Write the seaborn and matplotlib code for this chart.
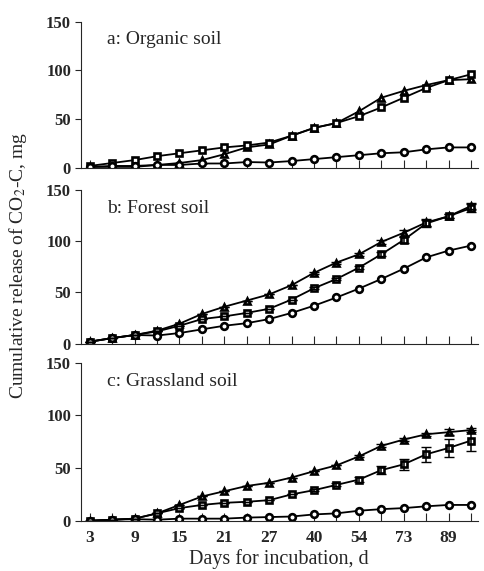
import numpy as np
import pandas as pd
import matplotlib
matplotlib.use("Agg")
import matplotlib.pyplot as plt
import seaborn as sns

# incubation days (only every other one is labelled on the axis)
days = [3, 6, 9, 12, 15, 18, 21, 24, 27, 33, 40, 47, 54, 63, 73, 81, 89, 97]
tick_days = [3, 9, 15, 21, 27, 40, 54, 73, 89]

# a: organic soil
org_tri = [1, 1, 1, 3, 5, 8, 14, 21, 24, 33, 41, 46, 58, 72, 79, 85, 90, 91]
org_sq = [2, 5, 8, 12, 15, 18, 21, 23, 26, 33, 41, 46, 53, 62, 72, 82, 90, 96]
org_ci = [1, 2, 2, 3, 3, 4.5, 4.5, 6, 5.5, 7, 9, 11, 13, 15, 16, 19, 21, 21]

# b: forest soil
for_tri = [2, 5.5, 8.5, 12.7, 19.5, 29, 36, 42, 48, 57, 69, 79, 87, 99, 108, 118, 124, 134]
for_sq = [2, 5.5, 8.5, 12, 17.5, 24, 26.6, 30, 34, 43, 54, 63, 74, 87, 101, 117, 124, 132]
for_ci = [2, 5.5, 8.5, 8, 10.4, 14, 17.5, 20, 24, 30, 37, 45, 53.6, 63, 73, 84, 90.6, 95.5]
for_sq_err = [0, 0, 0, 0, 0, 0, 0, 0, 0, 0, 1, 1, 1.5, 2, 3, 3, 2, 4]
for_tri_err = [0, 0, 0, 0, 0, 0, 0, 0, 0, 0, 1, 1, 1.5, 2, 3, 3, 2, 3]

# c: grassland soil
gra_tri = [0, 1, 2, 7, 15, 23, 28, 33, 36, 41, 47, 52.5, 61, 71, 77, 82, 84, 86]
gra_sq = [0, 1, 2, 7, 12, 15, 17, 18, 19.5, 25, 29, 34, 39, 48, 53.5, 63, 69, 76]
gra_ci = [0, 1, 1.5, 1, 2, 2, 2, 3, 3.5, 4, 6, 7, 9.5, 11, 12, 13.7, 15, 15]
gra_sq_err = [0, 0, 0, 0, 0, 0, 0, 0, 0, 0, 1, 1.5, 2.5, 4, 5, 7, 9, 10]
gra_tri_err = [0, 0, 0, 0, 0, 0, 0, 0, 0, 0, 0, 0, 1, 1.5, 1.5, 1.5, 3, 2]

panels = [
    ("a: Organic soil", org_tri, org_sq, org_ci, None, None),
    ("b: Forest soil", for_tri, for_sq, for_ci, for_tri_err, for_sq_err),
    ("c: Grassland soil", gra_tri, gra_sq, gra_ci, gra_tri_err, gra_sq_err),
]

sns.set_style("ticks")
plt.rcParams["font.family"] = ["Liberation Serif", "DejaVu Serif"]
plt.rcParams["mathtext.fontset"] = "stix"

fig = plt.figure(figsize=(4.84, 5.71), dpi=100)
# axes boxes in figure fractions
boxes = [
    [0.167, 0.706, 0.820, 0.256],
    [0.167, 0.398, 0.820, 0.270],
    [0.167, 0.088, 0.820, 0.277],
]

pos = np.arange(len(days))
markers = {"tri": "^", "sq": "s", "ci": "o"}

for box, (title, tri, sq, ci, tri_err, sq_err) in zip(boxes, panels):
    ax = fig.add_axes(box)
    df = pd.DataFrame({
        "pos": np.concatenate([pos, pos, pos]),
        "value": tri + sq + ci,
        "trt": ["tri"] * len(pos) + ["sq"] * len(pos) + ["ci"] * len(pos),
    })
    sns.lineplot(data=df, x="pos", y="value", style="trt", markers=markers,
                 dashes=False, color="black", lw=1.3, ms=4.8,
                 mfc="white", mec="black", mew=1.9, legend=False, ax=ax)
    if sq_err is not None:
        ax.errorbar(pos, sq, yerr=sq_err, fmt="none", ecolor="black",
                    elinewidth=1.1, capsize=3.5)
        ax.errorbar(pos, tri, yerr=tri_err, fmt="none", ecolor="black",
                    elinewidth=1.1, capsize=3.5)
    ax.set_xlim(-0.4, 17.3)
    ax.set_ylim(0, 150)
    ax.set_yticks([0, 50, 100, 150])
    ax.set_xticks(pos)
    ax.tick_params(axis="x", direction="in", length=6, width=0.8,
                   labelbottom=False)
    ax.tick_params(axis="y", direction="out", length=4, width=0.8,
                   labelsize=12, pad=3)
    for lab in ax.get_yticklabels():
        lab.set_fontweight("bold")
    ax.set_xlabel("")
    ax.set_ylabel("")
    sns.despine(ax=ax)
    ax.spines["left"].set_linewidth(0.8)
    ax.spines["bottom"].set_linewidth(0.8)
    ax.spines["bottom"].set_bounds(-0.4, 17.3)
    ax.spines["left"].set_bounds(0, 150)
    for s in ax.spines.values():
        s.set_clip_on(False)
    ax.text(0.065, 0.88, title, transform=ax.transAxes, fontsize=14,
            va="center", ha="left")

# bottom panel gets the day labels
ax.set_xticks(pos[::2])
ax.set_xticks(pos[1::2], minor=True)
ax.set_xticklabels([str(d) for d in tick_days])
ax.tick_params(axis="x", which="both", direction="in", length=6, width=0.8,
               labelbottom=True, labelsize=12.5, pad=7)
for lab in ax.get_xticklabels():
    lab.set_fontweight("bold")
ax.set_xlabel("Days for incubation, d", fontsize=14.5, labelpad=2)

fig.text(0.038, 0.535, "Cumulative release of CO$_2$-C, mg", rotation=90,
         fontsize=14, ha="center", va="center")

fig.savefig("out.png", dpi=100)
